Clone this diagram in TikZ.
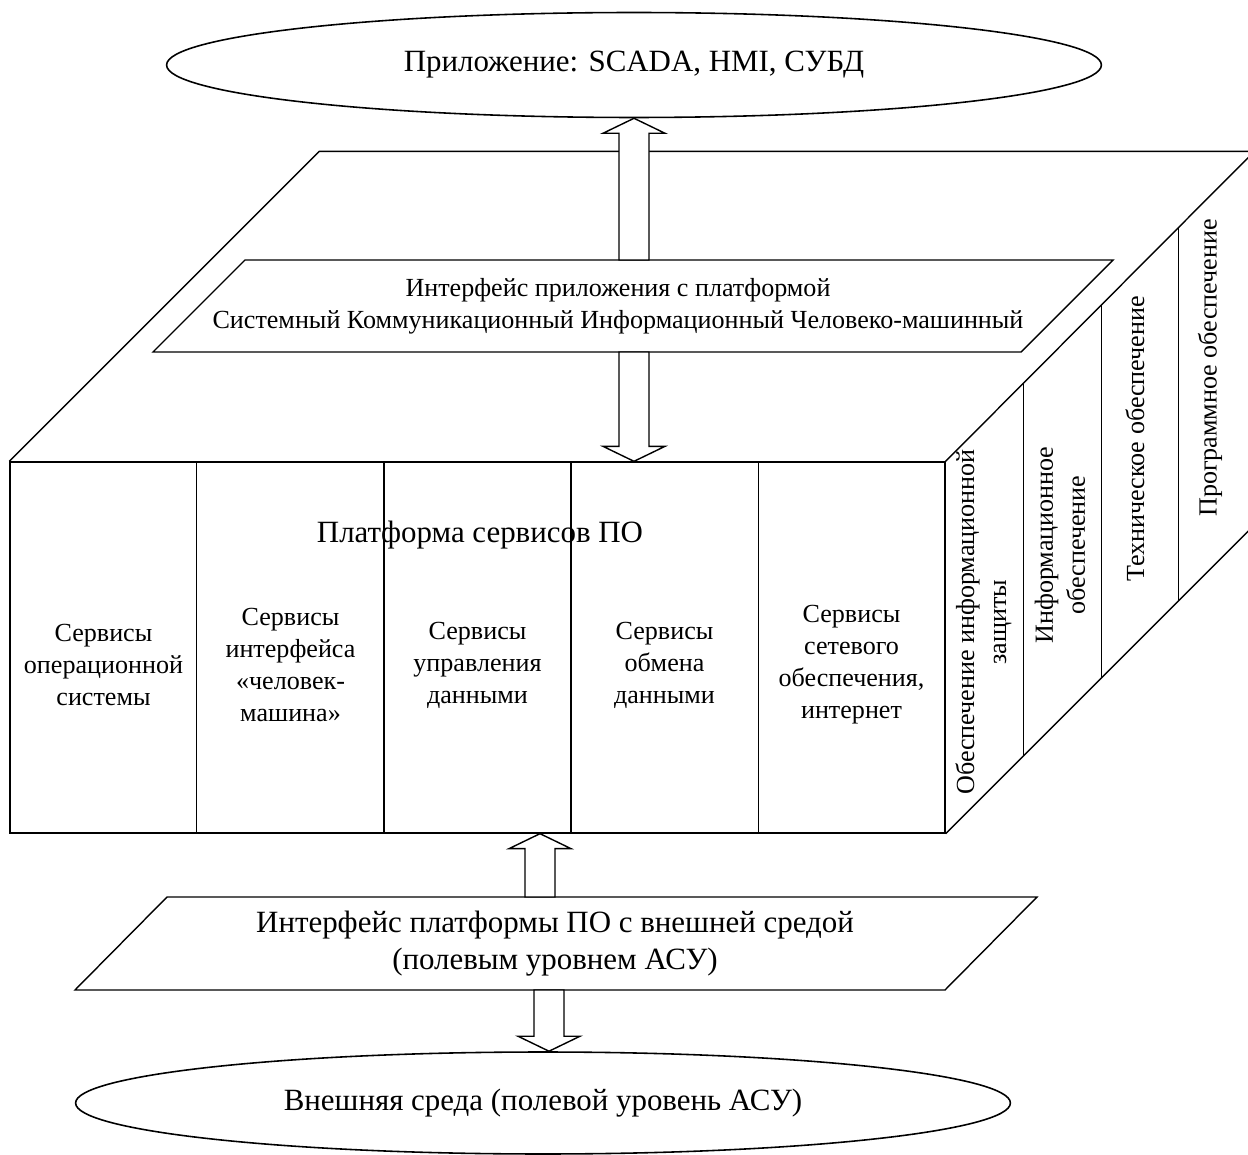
\documentclass[tikz,border=0pt]{standalone}
\usepackage{fontspec}
\setmainfont{Liberation Serif}
\usetikzlibrary{shapes.geometric, calc, positioning}

\newcommand{\bigfont}{\fontsize{17.6}{21}\selectfont}
\newcommand{\smallfont}{\fontsize{14.85}{18.2}\selectfont}

% hollow block arrow from #1 to the tip #2
\newcommand{\fatarrow}[2]{%
  \coordinate (fat-b) at ($(#2)!0.3cm!(#1)$);
  \draw[fat] ($(#1)!0.3cm!90:(#2)$) -- ($(fat-b)!0.3cm!90:(#2)$)
    -- ($(fat-b)!0.62cm!90:(#2)$) -- (#2) -- ($(fat-b)!0.62cm!-90:(#2)$)
    -- ($(fat-b)!0.3cm!-90:(#2)$) -- ($(#1)!0.3cm!-90:(#2)$) -- cycle;}

\begin{document}
\begin{tikzpicture}[x=0.02cm, y=-0.02cm, line width=0.8pt,
		oval/.style={ellipse, draw=black, line width=0.9pt, minimum width=18.7cm, minimum height=2.1cm, font=\bigfont},
		srv/.style={align=center, font=\smallfont},
		side/.style={rotate=90, align=center, font=\smallfont},
		fat/.style={draw=black, fill=white, line width=0.8pt}]
		
		\useasboundingbox (0,0) rectangle (1248,1155);
		
		% front face of the platform
		\node[draw, minimum width=18.7cm, minimum height=7.42cm] (plat) at (477.5,647.5) {};
		\draw (plat.north west) -- ++(310,-310) -- ++(935,0) -- (plat.north east);
		\draw (plat.south east) -- ++(310,-310);
		\foreach \i in {1,...,4}
			\draw ($(plat.north west)!\i/5!(plat.north east)$) -- ($(plat.south west)!\i/5!(plat.south east)$);
		\foreach \d in {78,156,233}
			\draw ([shift={(\d,-\d)}]plat.north east) -- ([shift={(\d,-\d)}]plat.south east);
		
		\node[font=\bigfont] (plattitle) at (480,535) {Платформа сервисов ПО};
		
		\node[srv] (s1) at (103.5,665) {Сервисы\\операционной\\системы};
		\node[srv] (s2) at (290.5,665) {Сервисы\\интерфейса\\«человек-\\машина»};
		\node[srv] (s3) at (477.5,665) {Сервисы\\управления\\данными};
		\node[srv] (s4) at (664.5,665) {Сервисы\\обмена\\данными};
		\node[srv] (s5) at (851.5,665) {Сервисы\\сетевого\\обеспечения,\\интернет};
		
		% side face
		\node[side] (z1) at (983.5,622) {Обеспечение информационной\\защиты};
		\node[side] (z2) at (1060,545) {Информационное\\обеспечение};
		\node[side] (z3) at (1135,439) {Техническое обеспечение};
		\node[side] (z4) at (1210,368) {Программное обеспечение};
		
		% interfaces
		\draw (245,260) -- (1113,260) -- (1021,352) -- (153,352) -- cycle;
		\node[srv] (ifapp) at (618,306) {Интерфейс приложения с платформой\\Системный Коммуникационный Информационный Человеко-машинный};
		\coordinate (ifapp-top) at (634,260);
		\coordinate (ifapp-bot) at (634,352);
		
		\draw (167,897) -- (1037,897) -- (945,990) -- (75,990) -- cycle;
		\node[align=center, font=\bigfont] (ifenv) at (555,944) {Интерфейс платформы ПО с внешней средой\\(полевым уровнем АСУ)};
		\coordinate (ifenv-top) at (540,897);
		\coordinate (ifenv-bot) at (549,990);
		
		\node[oval] (app) at (634,65) {Приложение: SCADA, HMI, СУБД};
		\node[oval, minimum height=2.04cm] (env) at (543,1103) {Внешняя среда (полевой уровень АСУ)};
		
		\coordinate (platin) at (ifapp-bot |- plat.north);
		\coordinate (platout) at (ifenv-top |- plat.south);
		\coordinate (envin) at (ifenv-bot |- env.north);
		
		\fatarrow{ifapp-top}{app.south}
		\fatarrow{ifapp-bot}{platin}
		\fatarrow{ifenv-top}{platout}
		\fatarrow{ifenv-bot}{envin}
		
	\end{tikzpicture}
\end{document}
